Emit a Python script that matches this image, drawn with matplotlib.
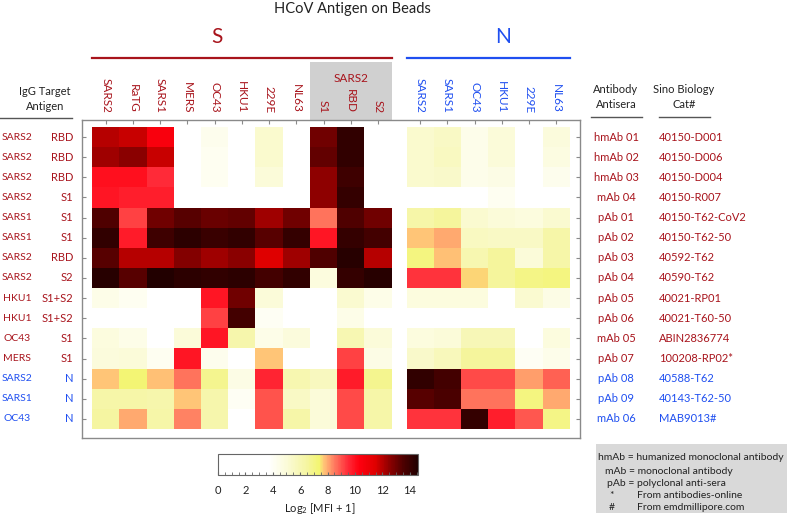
import numpy as np
import matplotlib.pyplot as plt
from matplotlib.colors import LinearSegmentedColormap, Normalize
from matplotlib.patches import Rectangle
from matplotlib.lines import Line2D
from matplotlib.ticker import MultipleLocator
from matplotlib.transforms import blended_transform_factory
import matplotlib.cm as cm

plt.rcParams['font.family'] = ['Lato', 'DejaVu Sans']
plt.rcParams['mathtext.fontset'] = 'custom'
plt.rcParams['mathtext.rm'] = 'Lato'

# ---- data ----
s_cols = ['SARS2', 'RaTG', 'SARS1', 'MERS', 'OC43', 'HKU1', '229E', 'NL63']
s2_sub_cols = ['S1', 'RBD', 'S2']
n_cols = ['SARS2', 'SARS1', 'OC43', 'HKU1', '229E', 'NL63']

target_virus = ['SARS2', 'SARS2', 'SARS2', 'SARS2', 'SARS1', 'SARS1', 'SARS2', 'SARS2',
                'HKU1', 'HKU1', 'OC43', 'MERS', 'SARS2', 'SARS1', 'OC43']
target_part = ['RBD', 'RBD', 'RBD', 'S1', 'S1', 'S1', 'RBD', 'S2',
               'S1+S2', 'S1+S2', 'S1', 'S1', 'N', 'N', 'N']
antibody = ['hmAb 01', 'hmAb 02', 'hmAb 03', 'mAb 04', 'pAb 01', 'pAb 02', 'pAb 03', 'pAb 04',
            'pAb 05', 'pAb 06', 'mAb 05', 'pAb 07', 'pAb 08', 'pAb 09', 'mAb 06']
cat_no = ['40150-D001', '40150-D006', '40150-D004', '40150-R007', '40150-T62-CoV2',
          '40150-T62-50', '40592-T62', '40590-T62', '40021-RP01', '40021-T60-50',
          'ABIN2836774', '100208-RP02*', '40588-T62', '40143-T62-50', 'MAB9013#']
n_target = [False] * 12 + [True] * 3

# log2(MFI+1), S antigens: 8 full S + SARS2 S1, RBD, S2
s_vals = np.array([
    [12.0, 11.8, 10.5, 2.0, 4.3, 2.0, 5.3, 2.0, 13.0, 14.2, 2.0],
    [12.3, 12.6, 11.8, 2.0, 4.2, 2.0, 5.3, 2.0, 13.2, 14.2, 2.0],
    [10.0, 10.0, 9.5, 2.0, 4.2, 2.0, 5.0, 2.0, 12.5, 13.9, 2.0],
    [9.9, 9.7, 9.7, 2.0, 2.0, 2.0, 2.0, 2.0, 12.5, 14.1, 2.0],
    [13.5, 9.2, 13.0, 13.4, 13.1, 13.2, 12.3, 13.0, 8.6, 13.5, 13.0],
    [14.2, 9.8, 13.9, 14.3, 14.0, 14.2, 13.4, 14.1, 9.9, 14.1, 13.8],
    [13.4, 12.0, 12.0, 12.7, 12.3, 12.6, 11.5, 12.3, 13.5, 14.4, 12.0],
    [14.4, 13.4, 14.5, 14.3, 14.2, 14.3, 13.8, 14.2, 4.8, 14.1, 14.4],
    [4.5, 4.2, 2.0, 2.0, 9.9, 13.0, 5.0, 2.0, 2.0, 5.2, 4.5],
    [2.0, 2.0, 2.0, 2.0, 9.2, 13.8, 4.1, 2.0, 2.0, 4.5, 2.0],
    [4.8, 4.5, 2.0, 5.0, 9.9, 6.2, 4.5, 4.9, 2.0, 6.0, 5.0],
    [4.9, 5.0, 4.2, 9.9, 4.3, 2.0, 7.7, 2.0, 2.0, 9.2, 4.6],
    [7.7, 7.3, 7.8, 8.6, 6.8, 4.6, 9.6, 6.1, 5.7, 9.8, 6.8],
    [6.3, 6.3, 6.2, 7.7, 6.2, 4.1, 9.0, 5.5, 5.0, 9.1, 6.3],
    [6.5, 8.0, 6.3, 8.4, 6.2, 2.0, 9.0, 6.3, 5.0, 9.1, 6.3],
])

# log2(MFI+1), N antigens
n_vals = np.array([
    [5.3, 5.5, 4.4, 5.0, 2.0, 4.9],
    [5.3, 5.6, 4.4, 5.0, 2.0, 4.7],
    [5.3, 5.4, 4.4, 4.6, 2.0, 4.3],
    [2.0, 2.0, 2.0, 4.2, 2.0, 2.0],
    [6.3, 6.6, 5.2, 5.0, 4.8, 5.2],
    [7.7, 8.0, 5.6, 5.5, 5.5, 6.3],
    [7.1, 7.8, 6.1, 6.6, 5.0, 6.3],
    [9.4, 9.4, 7.6, 6.6, 7.0, 7.1],
    [4.8, 4.8, 4.8, 2.0, 5.2, 4.6],
    [2.0, 2.0, 2.0, 2.0, 2.0, 2.0],
    [4.8, 5.0, 5.9, 5.9, 2.0, 4.8],
    [5.4, 5.8, 6.6, 6.6, 4.1, 4.4],
    [14.2, 13.8, 9.1, 9.1, 8.1, 8.8],
    [13.4, 13.6, 8.6, 8.6, 7.1, 8.0],
    [9.4, 9.4, 14.1, 9.7, 8.9, 7.0],
])

legend_lines = [('hmAb = humanized monoclonal antibody', None),
                ('mAb = monoclonal antibody', None),
                ('pAb = polyclonal anti-sera', None),
                ('*', 'From antibodies-online'),
                ('#', 'From emdmillipore.com')]

# ---- colours ----
VMAX = 14.6
stops = [(0, '#ffffff'), (3.7, '#ffffff'), (5.0, '#fbfbd8'), (6.5, '#f5f5a0'),
         (7.4, '#f3f570'), (7.7, '#ffc878'), (8.5, '#ff7a60'), (9.5, '#ff2a38'),
         (10.3, '#ff0010'), (11.5, '#e00000'), (12.5, '#900000'), (13.5, '#500000'),
         (14.6, '#200000')]
cmap = LinearSegmentedColormap.from_list('hcov', [(v / VMAX, c) for v, c in stops])
norm = Normalize(0, VMAX)

RED = '#a8141c'
BLUE = '#1f4ff0'
DARK = '#222222'
GRAY = '#8a8a8a'

W, H = 787, 518
fig = plt.figure(figsize=(W / 100, H / 100), dpi=100)


def fx(x):
    return x / W


def fy(y):
    return 1 - y / H


ax = fig.add_axes([fx(82), fy(438), 498 / W, 318 / H])
n_off = 11.55
ax.pcolormesh(np.arange(12), np.arange(16), s_vals, cmap=cmap, norm=norm)
ax.pcolormesh(np.arange(7) + n_off, np.arange(16), n_vals, cmap=cmap, norm=norm)
ax.set_xlim(-0.37, 17.92)
ax.set_ylim(15.45, -0.35)

xcent = list(np.arange(11) + 0.5) + list(np.arange(6) + n_off + 0.5)
ax.set_xticks(xcent)
ax.set_yticks(np.arange(15) + 0.5)
ax.tick_params(axis='x', direction='in', top=True, bottom=False,
               labeltop=False, labelbottom=False, length=3, color=GRAY)
ax.tick_params(axis='y', direction='in', left=True, right=True,
               labelleft=False, labelright=False, length=3, color=GRAY)
for sp in ax.spines.values():
    sp.set_color(GRAY)
    sp.set_linewidth(1)

tr_row = blended_transform_factory(fig.transFigure, ax.transData)
tr_col = blended_transform_factory(ax.transData, fig.transFigure)

# title and group headers
fig.text(fx(352), fy(9), 'HCoV Antigen on Beads', ha='center', va='center',
         fontsize=10.5, color=DARK)
fig.text(4.6, fy(37), 'S', transform=tr_col, ha='center', va='center',
         fontsize=15, color=RED)
fig.text(15.08, fy(37), 'N', transform=tr_col, ha='center', va='center',
         fontsize=15, color=BLUE)
fig.add_artist(Line2D([0, 11], [fy(58)] * 2, transform=tr_col, color=RED, lw=1.6))
fig.add_artist(Line2D([n_off, n_off + 6], [fy(58)] * 2, transform=tr_col, color=BLUE, lw=1.6))

# shaded box for SARS2 sub-units
fig.add_artist(Rectangle((8, fy(120)), 3, 58 / H, transform=tr_col,
                         facecolor='#d0d0d0', edgecolor='none', zorder=0))
fig.text(9.5, fy(78), 'SARS2', transform=tr_col, ha='center', va='center',
         fontsize=8.5, color=RED)

# column labels
for i, name in enumerate(s_cols + s2_sub_cols):
    fig.text(i + 0.5, fy(113), name, transform=tr_col, rotation=-90,
             ha='center', va='bottom', fontsize=8.5, color=RED)
for j, name in enumerate(n_cols):
    fig.text(n_off + j + 0.5, fy(113), name, transform=tr_col, rotation=-90,
             ha='center', va='bottom', fontsize=8.5, color=BLUE)

# row labels
for i in range(15):
    c = BLUE if n_target[i] else RED
    y = i + 0.5
    fig.text(fx(17), y, target_virus[i], transform=tr_row, ha='center', va='center',
             fontsize=7.5, color=c)
    fig.text(fx(73), y, target_part[i], transform=tr_row, ha='right', va='center',
             fontsize=8, color=c)
    fig.text(fx(616), y, antibody[i], transform=tr_row, ha='center', va='center',
             fontsize=8, color=c)
    fig.text(fx(659), y, cat_no[i], transform=tr_row, ha='left', va='center',
             fontsize=8, color=c)

# headers for label columns
fig.text(fx(45), fy(99), 'IgG Target\nAntigen', ha='center', va='center',
         fontsize=8, color=DARK, linespacing=1.4)
fig.text(fx(616), fy(97), 'Antibody\nAntisera', ha='center', va='center',
         fontsize=8, color=DARK, linespacing=1.4)
fig.text(fx(684), fy(97), 'Sino Biology\nCat#', ha='center', va='center',
         fontsize=8, color=DARK, linespacing=1.4)
for x0, x1, y in [(0, 72, 118), (591, 642, 117), (659, 710, 117)]:
    fig.add_artist(Line2D([fx(x0), fx(x1)], [fy(y)] * 2, transform=fig.transFigure,
                          color='#555555', lw=1))

# colorbar
cax = fig.add_axes([fx(218), fy(475), 200 / W, 21 / H])
sm = cm.ScalarMappable(norm=norm, cmap=cmap)
cb = fig.colorbar(sm, cax=cax, orientation='horizontal', ticks=range(0, 15, 2))
cb.outline.set_edgecolor('#666666')
cax.xaxis.set_minor_locator(MultipleLocator(0.5))
cax.tick_params(which='both', direction='in', length=2, color='#666666',
                labelsize=8, pad=7, labelcolor=DARK)
fig.text(fx(320), fy(509), 'Log$_2$ [MFI + 1]', ha='center', va='center',
         fontsize=8, color=DARK)

# abbreviation legend
fig.add_artist(Rectangle((fx(596), fy(513)), (W - 596) / W, 69 / H,
                         transform=fig.transFigure, facecolor='#d9d9d9',
                         edgecolor='none', zorder=0))
ly = [458, 471, 483, 496, 508]
lx = [598, 605, 607]
for k, (a, b) in enumerate(legend_lines):
    if b is None:
        fig.text(fx(lx[k]), fy(ly[k]), a, ha='left', va='center', fontsize=7.5, color=DARK)
    else:
        fig.text(fx(612), fy(ly[k]), a, ha='center', va='center', fontsize=7.5, color=DARK)
        fig.text(fx(637), fy(ly[k]), b, ha='left', va='center', fontsize=7.5, color=DARK)

fig.savefig('out.png', dpi=100)
